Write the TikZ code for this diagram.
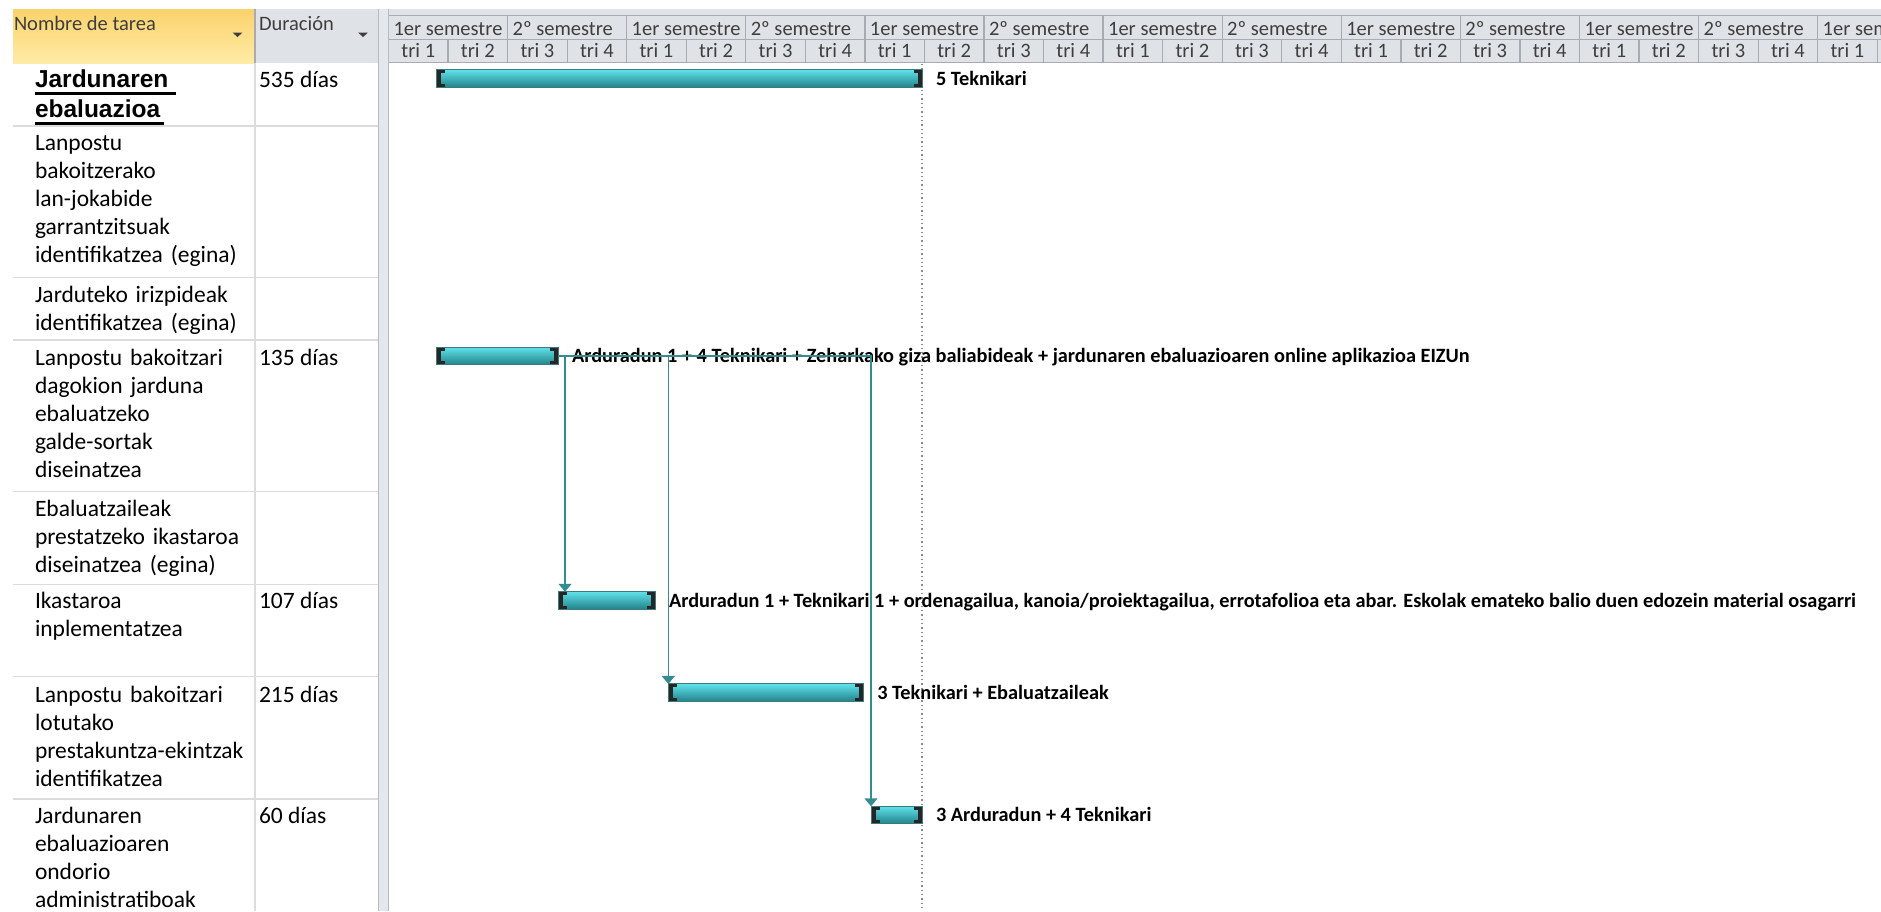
\documentclass[tikz,border=0pt]{standalone}
\usepackage{fontspec}
\setmainfont{Carlito}
\newfontfamily\titlefont{Liberation Sans}
\usetikzlibrary{arrows.meta,calc}
\definecolor{hdrgray}{HTML}{DFE3E8}
\definecolor{hdrline}{HTML}{A8ACB2}
\definecolor{hdrtext}{HTML}{3E3E3E}
\definecolor{yelTop}{HTML}{FBD26B}
\definecolor{yelBot}{HTML}{FFEBA6}
\definecolor{gridgray}{HTML}{DCDCDC}
\definecolor{splitfill}{HTML}{E4E7EB}
\definecolor{splitline}{HTML}{B8BCC2}
\definecolor{cyanA}{HTML}{5FE1E9}
\definecolor{tealB}{HTML}{23828A}
\definecolor{barline}{HTML}{3A7B80}
\definecolor{brk}{HTML}{262626}
\definecolor{linkcol}{HTML}{358C8F}
\definecolor{dotcol}{HTML}{8C8C8C}
\begin{document}
\begin{tikzpicture}[x=1pt,y=-1pt,
  task/.style={anchor=base west, inner sep=0pt, outer sep=0pt, text width=300pt, align=left, font=\fontsize{23.5}{28}\selectfont},
  title/.style={anchor=base west, inner sep=0pt, outer sep=0pt, text width=300pt, align=left, font=\titlefont\bfseries\fontsize{24.5}{30}\selectfont},
  uline/.style={fill=black},
  dur/.style={anchor=base west, inner sep=0pt, outer sep=0pt, font=\fontsize{23.5}{28}\selectfont},
  hdr/.style={anchor=base west, inner sep=0pt, outer sep=0pt, font=\fontsize{20.5}{24}\selectfont, text=hdrtext},
  semlab/.style={anchor=base west, inner sep=0pt, outer sep=0pt, font=\fontsize{20.5}{24}\selectfont, text=hdrtext},
  trilab/.style={anchor=base, inner sep=0pt, outer sep=0pt, font=\fontsize{20.5}{24}\selectfont, text=hdrtext},
  gbar/.style={rectangle, anchor=west, inner sep=0pt, outer sep=0pt, minimum height=17.5pt,
    draw=barline, line width=1pt, top color=cyanA, middle color=cyanA, bottom color=tealB,
    path picture={
      \fill[brk] (path picture bounding box.north west) rectangle ([xshift=4.5pt]path picture bounding box.south west);
      \fill[brk] (path picture bounding box.north west) rectangle ([xshift=8.5pt,yshift=-3.5pt]path picture bounding box.north west);
      \fill[brk] (path picture bounding box.south west) rectangle ([xshift=8.5pt,yshift=3.5pt]path picture bounding box.south west);
      \fill[brk] (path picture bounding box.north east) rectangle ([xshift=-4.5pt]path picture bounding box.south east);
      \fill[brk] (path picture bounding box.north east) rectangle ([xshift=-8.5pt,yshift=-3.5pt]path picture bounding box.north east);
      \fill[brk] (path picture bounding box.south east) rectangle ([xshift=-8.5pt,yshift=3.5pt]path picture bounding box.south east);
    }},
  barlab/.style={anchor=base west, inner sep=0pt, outer sep=0pt, font=\bfseries\fontsize{20.3}{24}\selectfont},
  link/.style={draw=linkcol, line width=1.5pt, -{Triangle[width=13pt,length=8pt]}},
  rowline/.style={draw=gridgray, line width=1.5pt},
  hline/.style={draw=hdrline, line width=1.3pt},
]
\useasboundingbox (0,0) rectangle (1881,911);
\clip (0,0) rectangle (1881,911);
\fill[white] (0,0) rectangle (1881,911);

% ---- table header
\shade[top color=yelTop, bottom color=yelBot] (13,9) rectangle (255,63);
\fill[hdrgray] (255,9) rectangle (378,63);
\draw[hline] (255,9) -- (255,63);
\node[hdr] (hname) at (14,30) {Nombre de tarea};
\node[hdr] (hdur) at (259,30) {Duración};
\fill[hdrtext] (232.5,32.5) -- (242.5,32.5) -- (237.5,37) -- cycle;
\fill[hdrtext] (358,32.5) -- (368,32.5) -- (363,37) -- cycle;

% ---- timeline header
\fill[hdrgray] (389,9) rectangle (1881,63);
\draw[hline] (389,15.7) -- (1881,15.7);
\draw[hline] (389,39.3) -- (1881,39.3);
\draw[hline] (389,62.7) -- (1881,62.7);
\foreach \i in {0,...,12} {
  \draw[hline] ({388.5+119.1*\i},15.7) -- ({388.5+119.1*\i},39.3);
  \node[semlab] (sem\i) at ({388.5+119.1*\i+5},35) {\ifodd\i\relax 2º semestre\else 1er semestre\fi};
}
\foreach \i in {0,...,25} {
  \pgfmathtruncatemacro{\t}{mod(\i,4)+1}
  \draw[hline] ({388.5+59.55*\i},39.3) -- ({388.5+59.55*\i},62.7);
  \node[trilab] (tri\i) at ({388.5+59.55*(\i+0.5)},57.3) {tri \t};
}

% ---- splitter
\fill[splitfill] (378,9) rectangle (389,911);
\draw[draw=splitline, line width=1.3pt] (378.5,9) -- (378.5,911);
\draw[draw=splitline, line width=1.3pt] (388.5,9) -- (388.5,911);

% ---- table grid
\draw[rowline] (255,63) -- (255,911);
\foreach \y in {126,277.3,340,491.7,584.3,676.7,799} {
  \draw[rowline] (13,\y) -- (378,\y);
}

% ---- task names
\node[title] (t1) at (35,87) {Jardunaren\\ebaluazioa};
\fill[uline] (35,92) rectangle (176,94.8);
\fill[uline] (35,122) rectangle (164,124.8);
\node[task] (t2) at (35,150) {Lanpostu\\bakoitzerako\\lan-jokabide\\garrantzitsuak\\identifikatzea (egina)};
\node[task] (t3) at (35,302) {Jarduteko irizpideak\\identifikatzea (egina)};
\node[task] (t4) at (35,365) {Lanpostu bakoitzari\\dagokion jarduna\\ebaluatzeko\\galde-sortak\\diseinatzea};
\node[task] (t5) at (35,516) {Ebaluatzaileak\\prestatzeko ikastaroa\\diseinatzea (egina)};
\node[task] (t6) at (35,608) {Ikastaroa\\inplementatzea};
\node[task] (t7) at (35,702) {Lanpostu bakoitzari\\lotutako\\prestakuntza-ekintzak\\identifikatzea};
\node[task] (t8) at (35,823) {Jardunaren\\ebaluazioaren\\ondorio\\administratiboak};

% ---- durations
\node[dur] (d1) at (259,87) {535 días};
\node[dur] (d4) at (259,365) {135 días};
\node[dur] (d6) at (259,608) {107 días};
\node[dur] (d7) at (259,702) {215 días};
\node[dur] (d8) at (259,823) {60 días};

% ---- status line
\draw[dotcol, line width=1.3pt, dash pattern=on 1.3pt off 3pt] (922,64) -- (922,911);

% ---- bars
\node[gbar, minimum width=486pt] (b1) at (436,78.5) {};
\node[gbar, minimum width=122pt] (b2) at (436,356) {};
\node[gbar, minimum width=97pt] (b3) at (558,600.5) {};
\node[gbar, minimum width=195pt] (b4) at (668.3,692.7) {};
\node[gbar, minimum width=51pt] (b5) at (871,815) {};

% ---- bar labels
\node[barlab] (l1) at ([xshift=14pt,yshift=-6.6pt]b1.east) {5 Teknikari};
\node[barlab] (l2) at ([xshift=14pt,yshift=-6.6pt]b2.east) {Arduradun 1 + 4 Teknikari + Zeharkako giza baliabideak + jardunaren ebaluazioaren online aplikazioa EIZUn};
\node[barlab] (l3) at ([xshift=14pt,yshift=-6.6pt]b3.east) {Arduradun 1 + Teknikari 1 + ordenagailua, kanoia/proiektagailua, errotafolioa eta abar. Eskolak emateko balio duen edozein material osagarri};
\node[barlab] (l4) at ([xshift=14pt,yshift=-6.6pt]b4.east) {3 Teknikari + Ebaluatzaileak};
\node[barlab] (l5) at ([xshift=14pt,yshift=-6.6pt]b5.east) {3 Arduradun + 4 Teknikari};

% ---- links
\draw[link] (b2.east) -| ([xshift=7pt]b3.north west);
\draw[link] (b2.east) -| (b4.north west);
\draw[link] (b2.east) -| (b5.north west);
\end{tikzpicture}
\end{document}
